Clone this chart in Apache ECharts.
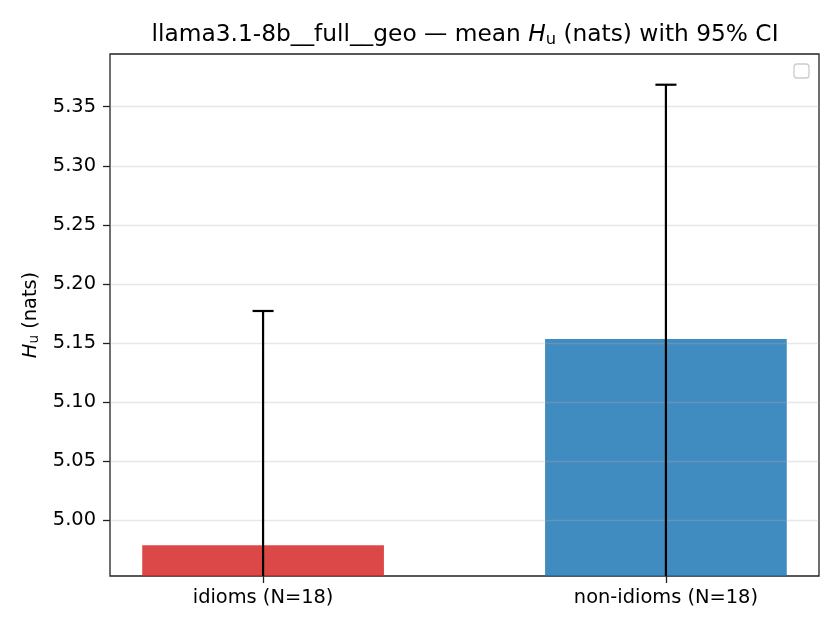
<!DOCTYPE html>
<html>
<head>
<meta charset="utf-8">
<script src="https://cdn.jsdelivr.net/npm/echarts@6/dist/echarts.min.js"></script>
<style>
  html, body { margin: 0; padding: 0; background: #fff; }
  #main { width: 840px; height: 630px; }
</style>
</head>
<body>
<div id="main"></div>
<script>
// data
var categories = ['idioms (N=18)', 'non-idioms (N=18)'];
var means = [4.9788, 5.1534];
var ciHalf = [0.1983, 0.2152];
var barColors = ['#d62728', '#1f77b4'];
var yTicks = [5.00, 5.05, 5.10, 5.15, 5.20, 5.25, 5.30, 5.35];

var BAR_W = 0.6;
var FONT = 'DejaVu Sans';

var myChart = echarts.init(document.getElementById('main'));

var barData = means.map(function (m, i) { return [i, m]; });
var errData = means.map(function (m, i) { return [i, m - ciHalf[i], m + ciHalf[i]]; });

myChart.setOption({
  animation: false,
  backgroundColor: '#fff',
  textStyle: { fontFamily: FONT },
  title: {
    text: 'llama3.1-8b__full__geo — mean {i|H}{s|u} (nats) with 95% CI',
    left: 460,
    textAlign: 'center',
    top: 17,
    textStyle: {
      fontFamily: FONT,
      fontSize: 23.3,
      fontWeight: 'normal',
      color: '#000',
      rich: {
        i: { fontFamily: FONT, fontSize: 23.3, fontStyle: 'italic', color: '#000' },
        s: { fontFamily: FONT, fontSize: 16.3, color: '#000', padding: [10, 0, 0, 0] }
      }
    }
  },
  grid: {
    left: 110, right: 21, top: 54, bottom: 54,
    show: true, borderColor: '#222', borderWidth: 1.3
  },
  xAxis: {
    type: 'value',
    min: -0.38,
    max: 1.38,
    splitLine: { show: false },
    axisLine: { show: false, onZero: false },
    axisTick: { show: true, customValues: [0, 1], length: 7, lineStyle: { color: '#222', width: 1.3 } },
    axisLabel: {
      customValues: [0, 1],
      margin: 12,
      fontSize: 19.4,
      color: '#000',
      fontFamily: FONT,
      formatter: function (v) { return categories[Math.round(v)]; }
    }
  },
  yAxis: {
    type: 'value',
    z: 3,
    min: 4.9528,
    max: 5.3946,
    name: '{i|H}{s|u} (nats)',
    nameLocation: 'middle',
    nameRotate: 90,
    nameGap: 68,
    nameTextStyle: {
      fontFamily: FONT, fontSize: 19.4, color: '#000',
      rich: {
        i: { fontFamily: FONT, fontSize: 19.4, fontStyle: 'italic', color: '#000' },
        s: { fontFamily: FONT, fontSize: 13.6, color: '#000', padding: [8, 0, 0, 0] }
      }
    },
    axisLine: { show: false, onZero: false },
    axisTick: { show: true, customValues: yTicks, length: 7, lineStyle: { color: '#222', width: 1.3 } },
    axisLabel: {
      customValues: yTicks,
      margin: 14,
      fontSize: 19.4,
      color: '#000',
      fontFamily: FONT,
      formatter: function (v) { return v.toFixed(2); }
    },
    splitLine: { show: true, lineStyle: { color: 'rgba(176,176,176,0.3)', width: 1.3 } }
  },
  graphic: [{
    type: 'rect',
    shape: { x: 794, y: 64, width: 15, height: 14, r: 3 },
    style: { fill: '#fff', stroke: '#cccccc', lineWidth: 1.3 }
  }],
  series: [{
    type: 'custom',
    data: barData,
    z: 2,
    renderItem: function (params, api) {
      var i = api.value(0);
      var cs = params.coordSys;
      var p1 = api.coord([i - BAR_W / 2, api.value(1)]);
      var p2 = api.coord([i + BAR_W / 2, api.value(1)]);
      var bottom = cs.y + cs.height;
      return {
        type: 'rect',
        shape: { x: p1[0], y: p1[1], width: p2[0] - p1[0], height: bottom - p1[1] },
        style: { fill: barColors[params.dataIndex], opacity: 0.85 }
      };
    }
  }, {
    type: 'custom',
    data: errData,
    z: 4,
    renderItem: function (params, api) {
      var i = api.value(0);
      var cs = params.coordSys;
      var bottom = cs.y + cs.height;
      var lo = api.coord([i, api.value(1)]);
      var hi = api.coord([i, api.value(2)]);
      var loY = Math.min(lo[1], bottom);
      var capHalf = 10.5;
      var children = [{
        type: 'line',
        shape: { x1: hi[0], y1: hi[1], x2: hi[0], y2: loY },
        style: { stroke: '#000', lineWidth: 2.2 }
      }, {
        type: 'line',
        shape: { x1: hi[0] - capHalf, y1: hi[1], x2: hi[0] + capHalf, y2: hi[1] },
        style: { stroke: '#000', lineWidth: 2.2 }
      }];
      if (lo[1] <= bottom) {
        children.push({
          type: 'line',
          shape: { x1: lo[0] - capHalf, y1: lo[1], x2: lo[0] + capHalf, y2: lo[1] },
          style: { stroke: '#000', lineWidth: 2.2 }
        });
      }
      return { type: 'group', children: children };
    }
  }]
});
</script>
</body>
</html>
